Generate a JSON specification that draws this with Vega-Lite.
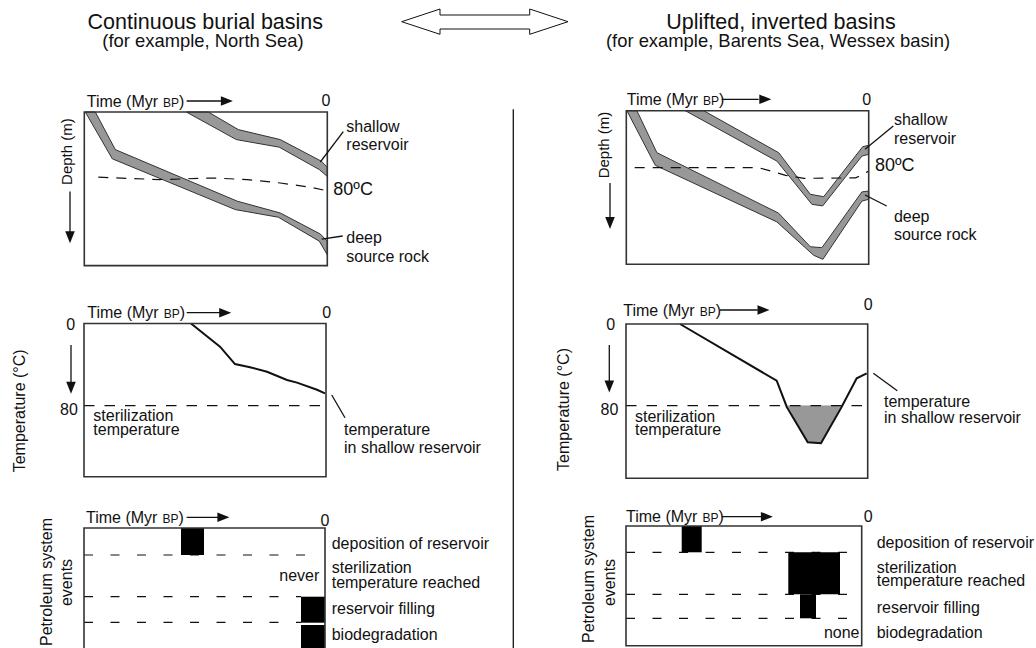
{
  "$schema": "https://vega.github.io/schema/vega-lite/v6.json",
  "width": 1036,
  "height": 648,
  "padding": 0,
  "autosize": {"type": "none"},
  "background": "white",
  "config": {"view": {"stroke": null}, "text": {"font": "Liberation Sans", "color": "#111"}},
  "resolve": {"scale": {"x": "independent", "y": "independent"}},
  "layer": [
    {
      "encoding": {
        "x": {"field": "age", "type": "quantitative", "scale": {"domain": [-354.35, 163.65], "reverse": true, "nice": false, "zero": false}, "axis": null},
        "y": {"field": "depth", "type": "quantitative", "scale": {"domain": [-2800, 13400], "reverse": true, "nice": false, "zero": false}, "axis": null}
      },
      "layer": [
        {
          "data": {"values": [
            {"band": "deep", "age": 116, "depth": 0}, {"band": "deep", "age": 106, "depth": 940}, {"band": "deep", "age": 45, "depth": 2230}, {"band": "deep", "age": 23.5, "depth": 2525}, {"band": "deep", "age": 3.5, "depth": 3050}, {"band": "deep", "age": 0, "depth": 3230}, {"band": "deep", "age": 0, "depth": 3570}, {"band": "deep", "age": 4, "depth": 3230}, {"band": "deep", "age": 24.5, "depth": 2630}, {"band": "deep", "age": 46, "depth": 2440}, {"band": "deep", "age": 107.5, "depth": 1170}, {"band": "deep", "age": 121, "depth": 0}, {"band": "deep", "age": 116, "depth": 0},
            {"band": "shallow", "age": 59.5, "depth": 0}, {"band": "shallow", "age": 44.5, "depth": 440}, {"band": "shallow", "age": 23.5, "depth": 690}, {"band": "shallow", "age": 3, "depth": 1230}, {"band": "shallow", "age": 0, "depth": 1380}, {"band": "shallow", "age": 0, "depth": 1610}, {"band": "shallow", "age": 4, "depth": 1440}, {"band": "shallow", "age": 24, "depth": 880}, {"band": "shallow", "age": 45.5, "depth": 690}, {"band": "shallow", "age": 70.5, "depth": 0}, {"band": "shallow", "age": 59.5, "depth": 0}
          ]},
          "mark": {"type": "line", "fill": "#989898", "stroke": "#333", "strokeWidth": 1},
          "encoding": {"detail": {"field": "band"}, "order": {"value": null}}
        },
        {
          "data": {"values": [
            {"age": 114.5, "depth": 1630}, {"age": 84, "depth": 1690}, {"age": 57, "depth": 1650}, {"age": 40, "depth": 1690}, {"age": 23.5, "depth": 1775}, {"age": 8.5, "depth": 1880}, {"age": 0, "depth": 1970}
          ]},
          "mark": {"type": "line", "stroke": "#111", "strokeWidth": 1.2, "strokeDash": [10, 8]},
          "encoding": {"order": {"value": null}}
        },
        {
          "data": {"values": [{"age": 121.5, "age2": 0, "depth": 0, "depth2": 3840}]},
          "mark": {"type": "rect", "fill": "transparent", "stroke": "#333", "strokeWidth": 1.6},
          "encoding": {"x2": {"field": "age2"}, "y2": {"field": "depth2"}}
        },
        {
          "data": {"values": [
            {"age": 3.5, "depth": 1250, "age2": -8, "depth2": 490},
            {"age": 2.8, "depth": 3180, "age2": -7.7, "depth2": 3100},
            {"age": 70.3, "depth": -275, "age2": 52, "depth2": -275},
            {"age": 128.65, "depth": 1990, "age2": 128.65, "depth2": 3100},
            {"age": -93, "depth": -70, "age2": -93, "depth2": 13400}
          ]},
          "mark": {"type": "rule", "stroke": "#111", "strokeWidth": 1.3},
          "encoding": {"x2": {"field": "age2"}, "y2": {"field": "depth2"}}
        },
        {
          "data": {"values": [{"age": 50.2, "depth": -275}]},
          "mark": {"type": "point", "shape": "M-1,-0.8L1,0L-1,0.8Z", "size": 144, "filled": true, "color": "#111", "opacity": 1, "strokeWidth": 0}
        },
        {
          "data": {"values": [{"age": 128.65, "depth": 3130}]},
          "mark": {"type": "point", "shape": "M-0.8,-1L0.8,-1L0,1Z", "size": 144, "filled": true, "color": "#111", "opacity": 1, "strokeWidth": 0}
        },
        {
          "data": {"values": [
            {"age": -37.2, "depth": -2257.5}, {"age": -56.35, "depth": -2575}, {"age": -56.35, "depth": -2425}, {"age": -101.2, "depth": -2425}, {"age": -101.2, "depth": -2575}, {"age": -120.35, "depth": -2257.5}, {"age": -101.2, "depth": -1942.5}, {"age": -101.2, "depth": -2075}, {"age": -56.35, "depth": -2075}, {"age": -56.35, "depth": -1942.5}, {"age": -37.2, "depth": -2257.5}
          ]},
          "mark": {"type": "line", "fill": "white", "stroke": "#111", "strokeWidth": 1},
          "encoding": {"order": {"value": null}}
        },
        {
          "data": {"values": [
            {"age": -9.5, "depth": 375, "label": "shallow"}, {"age": -9.5, "depth": 825, "label": "reservoir"}, {"age": -9.5, "depth": 3160, "label": "deep"}, {"age": -9.5, "depth": 3620, "label": "source rock"}
          ]},
          "mark": {"type": "text", "align": "left", "baseline": "middle", "fontSize": 16},
          "encoding": {"text": {"field": "label"}}
        },
        {
          "data": {"values": [{"age": -3, "depth": 1960, "label": "80ºC"}]},
          "mark": {"type": "text", "align": "left", "baseline": "middle", "fontSize": 18},
          "encoding": {"text": {"field": "label"}}
        },
        {
          "data": {"values": [{"age": 120.3, "depth": -135, "label": "Time (Myr"}, {"age": 74.1, "depth": -135, "label": ")"}]},
          "mark": {"type": "text", "align": "left", "baseline": "alphabetic", "fontSize": 16},
          "encoding": {"text": {"field": "label"}}
        },
        {
          "data": {"values": [{"age": 82.1, "depth": -135, "label": "BP"}]},
          "mark": {"type": "text", "align": "left", "baseline": "alphabetic", "fontSize": 12},
          "encoding": {"text": {"field": "label"}}
        },
        {
          "data": {"values": [{"age": 0.65, "depth": -275, "label": "0"}]},
          "mark": {"type": "text", "align": "center", "baseline": "middle", "fontSize": 16},
          "encoding": {"text": {"field": "label"}}
        },
        {
          "data": {"values": [{"age": 130.3, "depth": 990, "label": "Depth (m)"}]},
          "mark": {"type": "text", "align": "center", "baseline": "middle", "fontSize": 15, "angle": 270},
          "encoding": {"text": {"field": "label"}}
        },
        {
          "data": {"values": [{"age": 61, "depth": -2225, "label": "Continuous burial basins"}]},
          "mark": {"type": "text", "align": "center", "baseline": "middle", "fontSize": 21.5},
          "encoding": {"text": {"field": "label"}}
        },
        {
          "data": {"values": [{"age": 62.15, "depth": -1775, "label": "(for example, North Sea)"}]},
          "mark": {"type": "text", "align": "center", "baseline": "middle", "fontSize": 18.4},
          "encoding": {"text": {"field": "label"}}
        }
      ]
    },
    {
      "encoding": {
        "x": {"field": "age", "type": "quantitative", "scale": {"domain": [-83.65, 434.35], "reverse": true, "nice": false, "zero": false}, "axis": null},
        "y": {"field": "depth", "type": "quantitative", "scale": {"domain": [-2767.5, 13432.5], "reverse": true, "nice": false, "zero": false}, "axis": null}
      },
      "layer": [
        {
          "data": {"values": [
            {"band": "deep", "age": 115.9, "depth": 0}, {"band": "deep", "age": 105.9, "depth": 1050}, {"band": "deep", "age": 45.1, "depth": 2560}, {"band": "deep", "age": 29.2, "depth": 3400}, {"band": "deep", "age": 23.4, "depth": 3425}, {"band": "deep", "age": 3.4, "depth": 2030}, {"band": "deep", "age": 0, "depth": 2010}, {"band": "deep", "age": 0, "depth": 2215}, {"band": "deep", "age": 3.4, "depth": 2260}, {"band": "deep", "age": 22.9, "depth": 3715}, {"band": "deep", "age": 27.5, "depth": 3615}, {"band": "deep", "age": 45.9, "depth": 2780}, {"band": "deep", "age": 106.7, "depth": 1365}, {"band": "deep", "age": 120.9, "depth": 0}, {"band": "deep", "age": 115.9, "depth": 0},
            {"band": "shallow", "age": 82.5, "depth": 0}, {"band": "shallow", "age": 45, "depth": 1050}, {"band": "shallow", "age": 29.2, "depth": 2090}, {"band": "shallow", "age": 22.5, "depth": 2150}, {"band": "shallow", "age": 3, "depth": 900}, {"band": "shallow", "age": 0, "depth": 865}, {"band": "shallow", "age": 0, "depth": 1090}, {"band": "shallow", "age": 3.4, "depth": 1135}, {"band": "shallow", "age": 23, "depth": 2380}, {"band": "shallow", "age": 28.4, "depth": 2340}, {"band": "shallow", "age": 45.9, "depth": 1260}, {"band": "shallow", "age": 91.7, "depth": 0}, {"band": "shallow", "age": 82.5, "depth": 0}
          ]},
          "mark": {"type": "line", "fill": "#989898", "stroke": "#333", "strokeWidth": 1},
          "encoding": {"detail": {"field": "band"}, "order": {"value": null}}
        },
        {
          "data": {"values": [
            {"age": 117, "depth": 1425}, {"age": 55, "depth": 1425}, {"age": 41.5, "depth": 1615}, {"age": 32.5, "depth": 1690}, {"age": 6.5, "depth": 1680}, {"age": 0, "depth": 1510}
          ]},
          "mark": {"type": "line", "stroke": "#111", "strokeWidth": 1.2, "strokeDash": [10, 8]},
          "encoding": {"order": {"value": null}}
        },
        {
          "data": {"values": [{"age": 121.2, "age2": 0, "depth": 0, "depth2": 3840}]},
          "mark": {"type": "rect", "fill": "transparent", "stroke": "#333", "strokeWidth": 1.6},
          "encoding": {"x2": {"field": "age2"}, "y2": {"field": "depth2"}}
        },
        {
          "data": {"values": [
            {"age": 1.85, "depth": 965, "age2": -12.3, "depth2": 382.5},
            {"age": 1.85, "depth": 2107.5, "age2": -9, "depth2": 2382.5},
            {"age": 73.5, "depth": -285, "age2": 55, "depth2": -285},
            {"age": 129.35, "depth": 1807.5, "age2": 129.35, "depth2": 2700}
          ]},
          "mark": {"type": "rule", "stroke": "#111", "strokeWidth": 1.3},
          "encoding": {"x2": {"field": "age2"}, "y2": {"field": "depth2"}}
        },
        {
          "data": {"values": [{"age": 51.7, "depth": -285}]},
          "mark": {"type": "point", "shape": "M-1,-0.8L1,0L-1,0.8Z", "size": 144, "filled": true, "color": "#111", "opacity": 1, "strokeWidth": 0}
        },
        {
          "data": {"values": [{"age": 129.35, "depth": 2805}]},
          "mark": {"type": "point", "shape": "M-0.8,-1L0.8,-1L0,1Z", "size": 144, "filled": true, "color": "#111", "opacity": 1, "strokeWidth": 0}
        },
        {
          "data": {"values": [
            {"age": -12.6, "depth": 232.5, "label": "shallow"}, {"age": -12.6, "depth": 707.5, "label": "reservoir"}, {"age": -12.6, "depth": 2650, "label": "deep"}, {"age": -12.6, "depth": 3107.5, "label": "source rock"}
          ]},
          "mark": {"type": "text", "align": "left", "baseline": "middle", "fontSize": 16},
          "encoding": {"text": {"field": "label"}}
        },
        {
          "data": {"values": [{"age": -3.15, "depth": 1382.5, "label": "80ºC"}]},
          "mark": {"type": "text", "align": "left", "baseline": "middle", "fontSize": 18},
          "encoding": {"text": {"field": "label"}}
        },
        {
          "data": {"values": [{"age": 121, "depth": -142.5, "label": "Time (Myr"}, {"age": 74.8, "depth": -142.5, "label": ")"}]},
          "mark": {"type": "text", "align": "left", "baseline": "alphabetic", "fontSize": 16},
          "encoding": {"text": {"field": "label"}}
        },
        {
          "data": {"values": [{"age": 82.8, "depth": -142.5, "label": "BP"}]},
          "mark": {"type": "text", "align": "left", "baseline": "alphabetic", "fontSize": 12},
          "encoding": {"text": {"field": "label"}}
        },
        {
          "data": {"values": [{"age": 1, "depth": -267.5, "label": "0"}]},
          "mark": {"type": "text", "align": "center", "baseline": "middle", "fontSize": 16},
          "encoding": {"text": {"field": "label"}}
        },
        {
          "data": {"values": [{"age": 132.35, "depth": 857.5, "label": "Depth (m)"}]},
          "mark": {"type": "text", "align": "center", "baseline": "middle", "fontSize": 15, "angle": 270},
          "encoding": {"text": {"field": "label"}}
        },
        {
          "data": {"values": [{"age": 43.85, "depth": -2192.5, "label": "Uplifted, inverted basins"}]},
          "mark": {"type": "text", "align": "center", "baseline": "middle", "fontSize": 21.5},
          "encoding": {"text": {"field": "label"}}
        },
        {
          "data": {"values": [{"age": 45.35, "depth": -1742.5, "label": "(for example, Barents Sea, Wessex basin)"}]},
          "mark": {"type": "text", "align": "center", "baseline": "middle", "fontSize": 18.4},
          "encoding": {"text": {"field": "label"}}
        }
      ]
    },
    {
      "encoding": {
        "x": {"field": "age", "type": "quantitative", "scale": {"domain": [-355, 163], "reverse": true, "nice": false, "zero": false}, "axis": null},
        "y": {"field": "temp", "type": "quantitative", "scale": {"domain": [-314.84, 315.81], "reverse": true, "nice": false, "zero": false}, "axis": null}
      },
      "layer": [
        {
          "data": {"values": [{"age": 121, "temp": 80}, {"age": 0, "temp": 80}]},
          "mark": {"type": "line", "stroke": "#111", "strokeWidth": 1.2, "strokeDash": [10.5, 10]},
          "encoding": {"order": {"value": null}}
        },
        {
          "data": {"values": [
            {"age": 67.5, "temp": 0}, {"age": 53, "temp": 22.5}, {"age": 45.5, "temp": 39.5}, {"age": 38, "temp": 42.5}, {"age": 29.5, "temp": 47}, {"age": 19.5, "temp": 55}, {"age": 14.5, "temp": 57.5}, {"age": 4.5, "temp": 64.5}, {"age": 0.5, "temp": 68}
          ]},
          "mark": {"type": "line", "stroke": "#111", "strokeWidth": 2},
          "encoding": {"order": {"value": null}}
        },
        {
          "data": {"values": [{"age": 121, "age2": 0, "temp": 0, "temp2": 149.1}]},
          "mark": {"type": "rect", "fill": "transparent", "stroke": "#333", "strokeWidth": 1.6},
          "encoding": {"x2": {"field": "age2"}, "y2": {"field": "temp2"}}
        },
        {
          "data": {"values": [
            {"age": -2.85, "temp": 69.6, "age2": -9.5, "temp2": 91.7},
            {"age": 69.65, "temp": -10.5, "age2": 51.5, "temp2": -10.5},
            {"age": 127.5, "temp": 20.9, "age2": 127.5, "temp2": 58}
          ]},
          "mark": {"type": "rule", "stroke": "#111", "strokeWidth": 1.3},
          "encoding": {"x2": {"field": "age2"}, "y2": {"field": "temp2"}}
        },
        {
          "data": {"values": [{"age": 50.4, "temp": -10.5}]},
          "mark": {"type": "point", "shape": "M-1,-0.8L1,0L-1,0.8Z", "size": 144, "filled": true, "color": "#111", "opacity": 1, "strokeWidth": 0}
        },
        {
          "data": {"values": [{"age": 127.5, "temp": 62.5}]},
          "mark": {"type": "point", "shape": "M-0.8,-1L0.8,-1L0,1Z", "size": 144, "filled": true, "color": "#111", "opacity": 1, "strokeWidth": 0}
        },
        {
          "data": {"values": [
            {"age": 116.35, "temp": 89.7, "label": "sterilization"}, {"age": 116.35, "temp": 103.6, "label": "temperature"}, {"age": -9, "temp": 103.6, "label": "temperature"}, {"age": -9, "temp": 121.5, "label": "in shallow reservoir"}
          ]},
          "mark": {"type": "text", "align": "left", "baseline": "middle", "fontSize": 16},
          "encoding": {"text": {"field": "label"}}
        },
        {
          "data": {"values": [{"age": 119.35, "temp": -4.96, "label": "Time (Myr"}, {"age": 73.15, "temp": -4.96, "label": ")"}]},
          "mark": {"type": "text", "align": "left", "baseline": "alphabetic", "fontSize": 16},
          "encoding": {"text": {"field": "label"}}
        },
        {
          "data": {"values": [{"age": 81.15, "temp": -4.96, "label": "BP"}]},
          "mark": {"type": "text", "align": "left", "baseline": "alphabetic", "fontSize": 12},
          "encoding": {"text": {"field": "label"}}
        },
        {
          "data": {"values": [{"age": -0.35, "temp": -10.5, "label": "0"}, {"age": 127.65, "temp": 1.5, "label": "0"}, {"age": 128.5, "temp": 84.2, "label": "80"}]},
          "mark": {"type": "text", "align": "center", "baseline": "middle", "fontSize": 16},
          "encoding": {"text": {"field": "label"}}
        },
        {
          "data": {"values": [{"age": 153, "temp": 85, "label": "Temperature (°C)"}]},
          "mark": {"type": "text", "align": "center", "baseline": "middle", "fontSize": 16, "angle": 270},
          "encoding": {"text": {"field": "label"}}
        }
      ]
    },
    {
      "encoding": {
        "x": {"field": "age", "type": "quantitative", "scale": {"domain": [-84.15, 433.85], "reverse": true, "nice": false, "zero": false}, "axis": null},
        "y": {"field": "temp", "type": "quantitative", "scale": {"domain": [-317.26, 317.26], "reverse": true, "nice": false, "zero": false}, "axis": null}
      },
      "layer": [
        {
          "data": {"values": [{"age": 40, "temp": 80}, {"age": 30, "temp": 115.8}, {"age": 23.35, "temp": 116.8}, {"age": 13.5, "temp": 80}, {"age": 40, "temp": 80}]},
          "mark": {"type": "line", "fill": "#989898", "stroke": "#989898", "strokeWidth": 0.5},
          "encoding": {"order": {"value": null}}
        },
        {
          "data": {"values": [{"age": 120.85, "temp": 80}, {"age": -1.15, "temp": 80}]},
          "mark": {"type": "line", "stroke": "#111", "strokeWidth": 1.2, "strokeDash": [10.5, 10]},
          "encoding": {"order": {"value": null}}
        },
        {
          "data": {"values": [
            {"age": 93.85, "temp": 0}, {"age": 45.5, "temp": 55.5}, {"age": 40.5, "temp": 81}, {"age": 30, "temp": 115.8}, {"age": 23.35, "temp": 116.8}, {"age": 13, "temp": 81}, {"age": 5.5, "temp": 53.2}, {"age": 0.5, "temp": 48.3}
          ]},
          "mark": {"type": "line", "stroke": "#111", "strokeWidth": 2},
          "encoding": {"order": {"value": null}}
        },
        {
          "data": {"values": [{"age": 120.85, "age2": 0, "temp": 0, "temp2": 151.1}]},
          "mark": {"type": "rect", "fill": "transparent", "stroke": "#333", "strokeWidth": 1.6},
          "encoding": {"x2": {"field": "age2"}, "y2": {"field": "temp2"}}
        },
        {
          "data": {"values": [
            {"age": -2.8, "temp": 48.3, "age2": -14.8, "temp2": 65.3},
            {"age": 73.85, "temp": -13.7, "age2": 55, "temp2": -13.7},
            {"age": 129.2, "temp": 20.6, "age2": 129.2, "temp2": 57}
          ]},
          "mark": {"type": "rule", "stroke": "#111", "strokeWidth": 1.3},
          "encoding": {"x2": {"field": "age2"}, "y2": {"field": "temp2"}}
        },
        {
          "data": {"values": [{"age": 52.1, "temp": -13.7}]},
          "mark": {"type": "point", "shape": "M-1,-0.8L1,0L-1,0.8Z", "size": 144, "filled": true, "color": "#111", "opacity": 1, "strokeWidth": 0}
        },
        {
          "data": {"values": [{"age": 129.2, "temp": 61.2}]},
          "mark": {"type": "point", "shape": "M-0.8,-1L0.8,-1L0,1Z", "size": 144, "filled": true, "color": "#111", "opacity": 1, "strokeWidth": 0}
        },
        {
          "data": {"values": [
            {"age": 116.35, "temp": 90.6, "label": "sterilization"}, {"age": 116.35, "temp": 103.8, "label": "temperature"}, {"age": -8.15, "temp": 76.1, "label": "temperature"}, {"age": -8.15, "temp": 92.3, "label": "in shallow reservoir"}
          ]},
          "mark": {"type": "text", "align": "left", "baseline": "middle", "fontSize": 16},
          "encoding": {"text": {"field": "label"}}
        },
        {
          "data": {"values": [{"age": 122.2, "temp": -8.1, "label": "Time (Myr"}, {"age": 76, "temp": -8.1, "label": ")"}]},
          "mark": {"type": "text", "align": "left", "baseline": "alphabetic", "fontSize": 16},
          "encoding": {"text": {"field": "label"}}
        },
        {
          "data": {"values": [{"age": 84, "temp": -8.1, "label": "BP"}]},
          "mark": {"type": "text", "align": "left", "baseline": "alphabetic", "fontSize": 12},
          "encoding": {"text": {"field": "label"}}
        },
        {
          "data": {"values": [{"age": -0.3, "temp": -18.6, "label": "0"}, {"age": 128.5, "temp": 1, "label": "0"}, {"age": 129.1, "temp": 84.2, "label": "80"}]},
          "mark": {"type": "text", "align": "center", "baseline": "middle", "fontSize": 16},
          "encoding": {"text": {"field": "label"}}
        },
        {
          "data": {"values": [{"age": 151.85, "temp": 83.7, "label": "Temperature (°C)"}]},
          "mark": {"type": "text", "align": "center", "baseline": "middle", "fontSize": 16, "angle": 270},
          "encoding": {"text": {"field": "label"}}
        }
      ]
    },
    {
      "encoding": {
        "x": {"field": "age", "type": "quantitative", "scale": {"domain": [-355.5, 162.5], "reverse": true, "nice": false, "zero": false}, "axis": null},
        "y": {"field": "lvl", "type": "quantitative", "scale": {"domain": [-52.8, 12], "reverse": true, "nice": false, "zero": false}, "axis": null}
      },
      "layer": [
        {
          "data": {"values": [
            {"age": 120.5, "age2": 8, "lvl": 2.7, "lvl2": 2.7},
            {"age": 120.5, "age2": 12, "lvl": 6.87, "lvl2": 6.87},
            {"age": 120.5, "age2": 12, "lvl": 9.43, "lvl2": 9.43}
          ]},
          "mark": {"type": "rule", "stroke": "#111", "strokeWidth": 1.2, "strokeDash": [9, 17.5]},
          "encoding": {"x2": {"field": "age2"}, "y2": {"field": "lvl2"}}
        },
        {
          "data": {"values": [
            {"event": "deposition of reservoir", "age": 72, "age2": 60.5, "lvl": 0, "lvl2": 2.7},
            {"event": "reservoir filling", "age": 12, "age2": 0, "lvl": 6.87, "lvl2": 9.47},
            {"event": "biodegradation", "age": 12, "age2": 0, "lvl": 9.7, "lvl2": 12.3}
          ]},
          "mark": {"type": "rect", "fill": "#000", "strokeWidth": 0},
          "encoding": {"x2": {"field": "age2"}, "y2": {"field": "lvl2"}}
        },
        {
          "data": {"values": [{"age": 120.5, "age2": 0, "lvl": 0, "lvl2": 12.3}]},
          "mark": {"type": "rect", "fill": "transparent", "stroke": "#333", "strokeWidth": 1.6},
          "encoding": {"x2": {"field": "age2"}, "y2": {"field": "lvl2"}}
        },
        {
          "data": {"values": [{"age": 69.15, "lvl": -1.07, "age2": 51, "lvl2": -1.07}]},
          "mark": {"type": "rule", "stroke": "#111", "strokeWidth": 1.3},
          "encoding": {"x2": {"field": "age2"}, "y2": {"field": "lvl2"}}
        },
        {
          "data": {"values": [{"age": 50.8, "lvl": -1.07}]},
          "mark": {"type": "point", "shape": "M-1,-0.8L1,0L-1,0.8Z", "size": 144, "filled": true, "color": "#111", "opacity": 1, "strokeWidth": 0}
        },
        {
          "data": {"values": [
            {"age": -3.35, "lvl": 1.63, "label": "deposition of reservoir"}, {"age": -3.35, "lvl": 4.03, "label": "sterilization"}, {"age": -3.35, "lvl": 5.47, "label": "temperature reached"}, {"age": -3.35, "lvl": 8.13, "label": "reservoir filling"}, {"age": -3.35, "lvl": 10.7, "label": "biodegradation"}
          ]},
          "mark": {"type": "text", "align": "left", "baseline": "middle", "fontSize": 16},
          "encoding": {"text": {"field": "label"}}
        },
        {
          "data": {"values": [{"age": 2.85, "lvl": 4.8, "label": "never"}]},
          "mark": {"type": "text", "align": "right", "baseline": "middle", "fontSize": 16},
          "encoding": {"text": {"field": "label"}}
        },
        {
          "data": {"values": [{"age": 119.5, "lvl": -0.5, "label": "Time (Myr"}, {"age": 73.3, "lvl": -0.5, "label": ")"}]},
          "mark": {"type": "text", "align": "left", "baseline": "alphabetic", "fontSize": 16},
          "encoding": {"text": {"field": "label"}}
        },
        {
          "data": {"values": [{"age": 81.3, "lvl": -0.5, "label": "BP"}]},
          "mark": {"type": "text", "align": "left", "baseline": "alphabetic", "fontSize": 12},
          "encoding": {"text": {"field": "label"}}
        },
        {
          "data": {"values": [{"age": 0, "lvl": -0.7, "label": "0"}]},
          "mark": {"type": "text", "align": "center", "baseline": "middle", "fontSize": 16},
          "encoding": {"text": {"field": "label"}}
        },
        {
          "data": {"values": [{"age": 139.15, "lvl": 5.4, "label": "Petroleum system"}, {"age": 129.15, "lvl": 5.45, "label": "events"}]},
          "mark": {"type": "text", "align": "center", "baseline": "middle", "fontSize": 16, "angle": 270},
          "encoding": {"text": {"field": "label"}}
        }
      ]
    },
    {
      "encoding": {
        "x": {"field": "age", "type": "quantitative", "scale": {"domain": [-87.15, 430.85], "reverse": true, "nice": false, "zero": false}, "axis": null},
        "y": {"field": "lvl", "type": "quantitative", "scale": {"domain": [-52.6, 12.2], "reverse": true, "nice": false, "zero": false}, "axis": null}
      },
      "layer": [
        {
          "data": {"values": [
            {"age": 117.85, "age2": 0.85, "lvl": 2.63, "lvl2": 2.63},
            {"age": 117.85, "age2": 0.85, "lvl": 6.83, "lvl2": 6.83},
            {"age": 117.85, "age2": 0.85, "lvl": 9.23, "lvl2": 9.23}
          ]},
          "mark": {"type": "rule", "stroke": "#111", "strokeWidth": 1.2, "strokeDash": [9, 17.5]},
          "encoding": {"x2": {"field": "age2"}, "y2": {"field": "lvl2"}}
        },
        {
          "data": {"values": [
            {"event": "deposition of reservoir", "age": 90, "age2": 80, "lvl": 0, "lvl2": 2.63},
            {"event": "sterilization temperature reached", "age": 36.7, "age2": 10.85, "lvl": 2.63, "lvl2": 6.83},
            {"event": "reservoir filling", "age": 30.85, "age2": 22.85, "lvl": 6.83, "lvl2": 9.23}
          ]},
          "mark": {"type": "rect", "fill": "#000", "strokeWidth": 0},
          "encoding": {"x2": {"field": "age2"}, "y2": {"field": "lvl2"}}
        },
        {
          "data": {"values": [{"age": 117.85, "age2": 0, "lvl": 0, "lvl2": 11.97}]},
          "mark": {"type": "rect", "fill": "transparent", "stroke": "#333", "strokeWidth": 1.6},
          "encoding": {"x2": {"field": "age2"}, "y2": {"field": "lvl2"}}
        },
        {
          "data": {"values": [{"age": 70, "lvl": -0.93, "age2": 50, "lvl2": -0.93}]},
          "mark": {"type": "rule", "stroke": "#111", "strokeWidth": 1.3},
          "encoding": {"x2": {"field": "age2"}, "y2": {"field": "lvl2"}}
        },
        {
          "data": {"values": [{"age": 47.4, "lvl": -0.93}]},
          "mark": {"type": "point", "shape": "M-1,-0.8L1,0L-1,0.8Z", "size": 144, "filled": true, "color": "#111", "opacity": 1, "strokeWidth": 0}
        },
        {
          "data": {"values": [
            {"age": -7.5, "lvl": 1.67, "label": "deposition of reservoir"}, {"age": -7.5, "lvl": 4.23, "label": "sterilization"}, {"age": -7.5, "lvl": 5.5, "label": "temperature reached"}, {"age": -7.5, "lvl": 8.17, "label": "reservoir filling"}, {"age": -7.5, "lvl": 10.67, "label": "biodegradation"}
          ]},
          "mark": {"type": "text", "align": "left", "baseline": "middle", "fontSize": 16},
          "encoding": {"text": {"field": "label"}}
        },
        {
          "data": {"values": [{"age": 1.1, "lvl": 10.73, "label": "none"}]},
          "mark": {"type": "text", "align": "right", "baseline": "middle", "fontSize": 16},
          "encoding": {"text": {"field": "label"}}
        },
        {
          "data": {"values": [{"age": 117.85, "lvl": -0.36, "label": "Time (Myr"}, {"age": 71.65, "lvl": -0.36, "label": ")"}]},
          "mark": {"type": "text", "align": "left", "baseline": "alphabetic", "fontSize": 16},
          "encoding": {"text": {"field": "label"}}
        },
        {
          "data": {"values": [{"age": 79.65, "lvl": -0.36, "label": "BP"}]},
          "mark": {"type": "text", "align": "left", "baseline": "alphabetic", "fontSize": 12},
          "encoding": {"text": {"field": "label"}}
        },
        {
          "data": {"values": [{"age": -3.3, "lvl": -0.93, "label": "0"}]},
          "mark": {"type": "text", "align": "center", "baseline": "middle", "fontSize": 16},
          "encoding": {"text": {"field": "label"}}
        },
        {
          "data": {"values": [{"age": 136.35, "lvl": 5.3, "label": "Petroleum system"}, {"age": 125.85, "lvl": 5.65, "label": "events"}]},
          "mark": {"type": "text", "align": "center", "baseline": "middle", "fontSize": 16, "angle": 270},
          "encoding": {"text": {"field": "label"}}
        }
      ]
    }
  ]
}
